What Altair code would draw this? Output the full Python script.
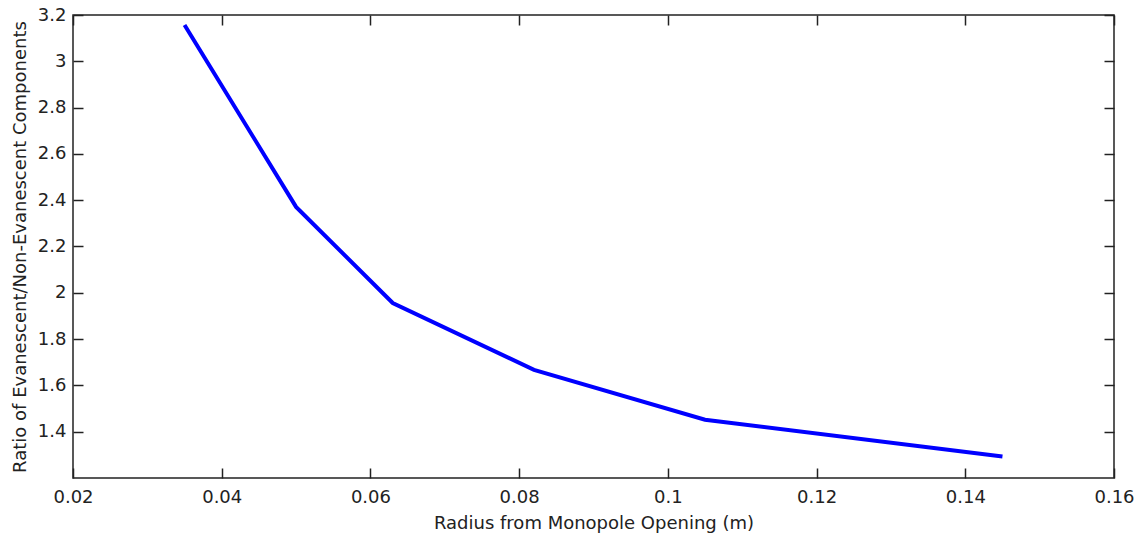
import altair as alt
import pandas as pd

radius = [0.035, 0.050, 0.063, 0.082, 0.105, 0.145]
ratio = [3.157, 2.371, 1.956, 1.667, 1.452, 1.293]

x_ticks = [0.02, 0.04, 0.06, 0.08, 0.10, 0.12, 0.14, 0.16]
y_ticks = [1.4, 1.6, 1.8, 2.0, 2.2, 2.4, 2.6, 2.8, 3.0, 3.2]

df = pd.DataFrame({"r": radius, "ratio": ratio})

FONT = "DejaVu Sans"
XD = [0.02, 0.16]
YD = [1.2, 3.2]

base = alt.Chart(df)

main = base.mark_line(color="#0000FF", strokeWidth=4).encode(
    x=alt.X("r:Q", scale=alt.Scale(domain=XD, nice=False, zero=False),
            axis=alt.Axis(values=x_ticks, format="~g", orient="bottom", offset=-10,
                          tickSize=10, domain=False, grid=False, labelFlush=False,
                          labelOverlap=False,
                          title="Radius from Monopole Opening (m)", titlePadding=8,
                          labelPadding=10)),
    y=alt.Y("ratio:Q", scale=alt.Scale(domain=YD, nice=False, zero=False),
            axis=alt.Axis(values=y_ticks, format="~g", orient="left", offset=-10,
                          tickSize=10, domain=False, grid=False, labelFlush=False,
                          labelOverlap=False,
                          title="Ratio of Evanescent/Non-Evanescent Components",
                          titlePadding=8, labelPadding=7)),
)

mirror = base.mark_line(opacity=0).encode(
    x=alt.X("r:Q", scale=alt.Scale(domain=XD, nice=False, zero=False),
            axis=alt.Axis(values=x_ticks, orient="top", offset=-10, tickSize=10,
                          domain=False, grid=False, labels=False, title=None)),
    y=alt.Y("ratio:Q", scale=alt.Scale(domain=YD, nice=False, zero=False),
            axis=alt.Axis(values=y_ticks, orient="right", offset=-10, tickSize=10,
                          domain=False, grid=False, labels=False, title=None)),
)

chart = alt.layer(main, mirror).resolve_scale(x="independent", y="independent").properties(
    width=1041, height=463,
    autosize=alt.AutoSizeParams(type="none"),
    padding={"left": 73, "top": 15, "right": 30, "bottom": 64},
    background="white",
).configure_view(stroke="#222222", strokeWidth=1.5).configure_axis(
    labelFont=FONT, titleFont=FONT, labelFontSize=18, titleFontSize=18,
    labelColor="#222222", titleColor="#222222", tickColor="#222222",
    titleFontWeight="normal", tickWidth=1.5,
)

chart.save("out.html", embed_options={"renderer": "svg", "actions": False})
